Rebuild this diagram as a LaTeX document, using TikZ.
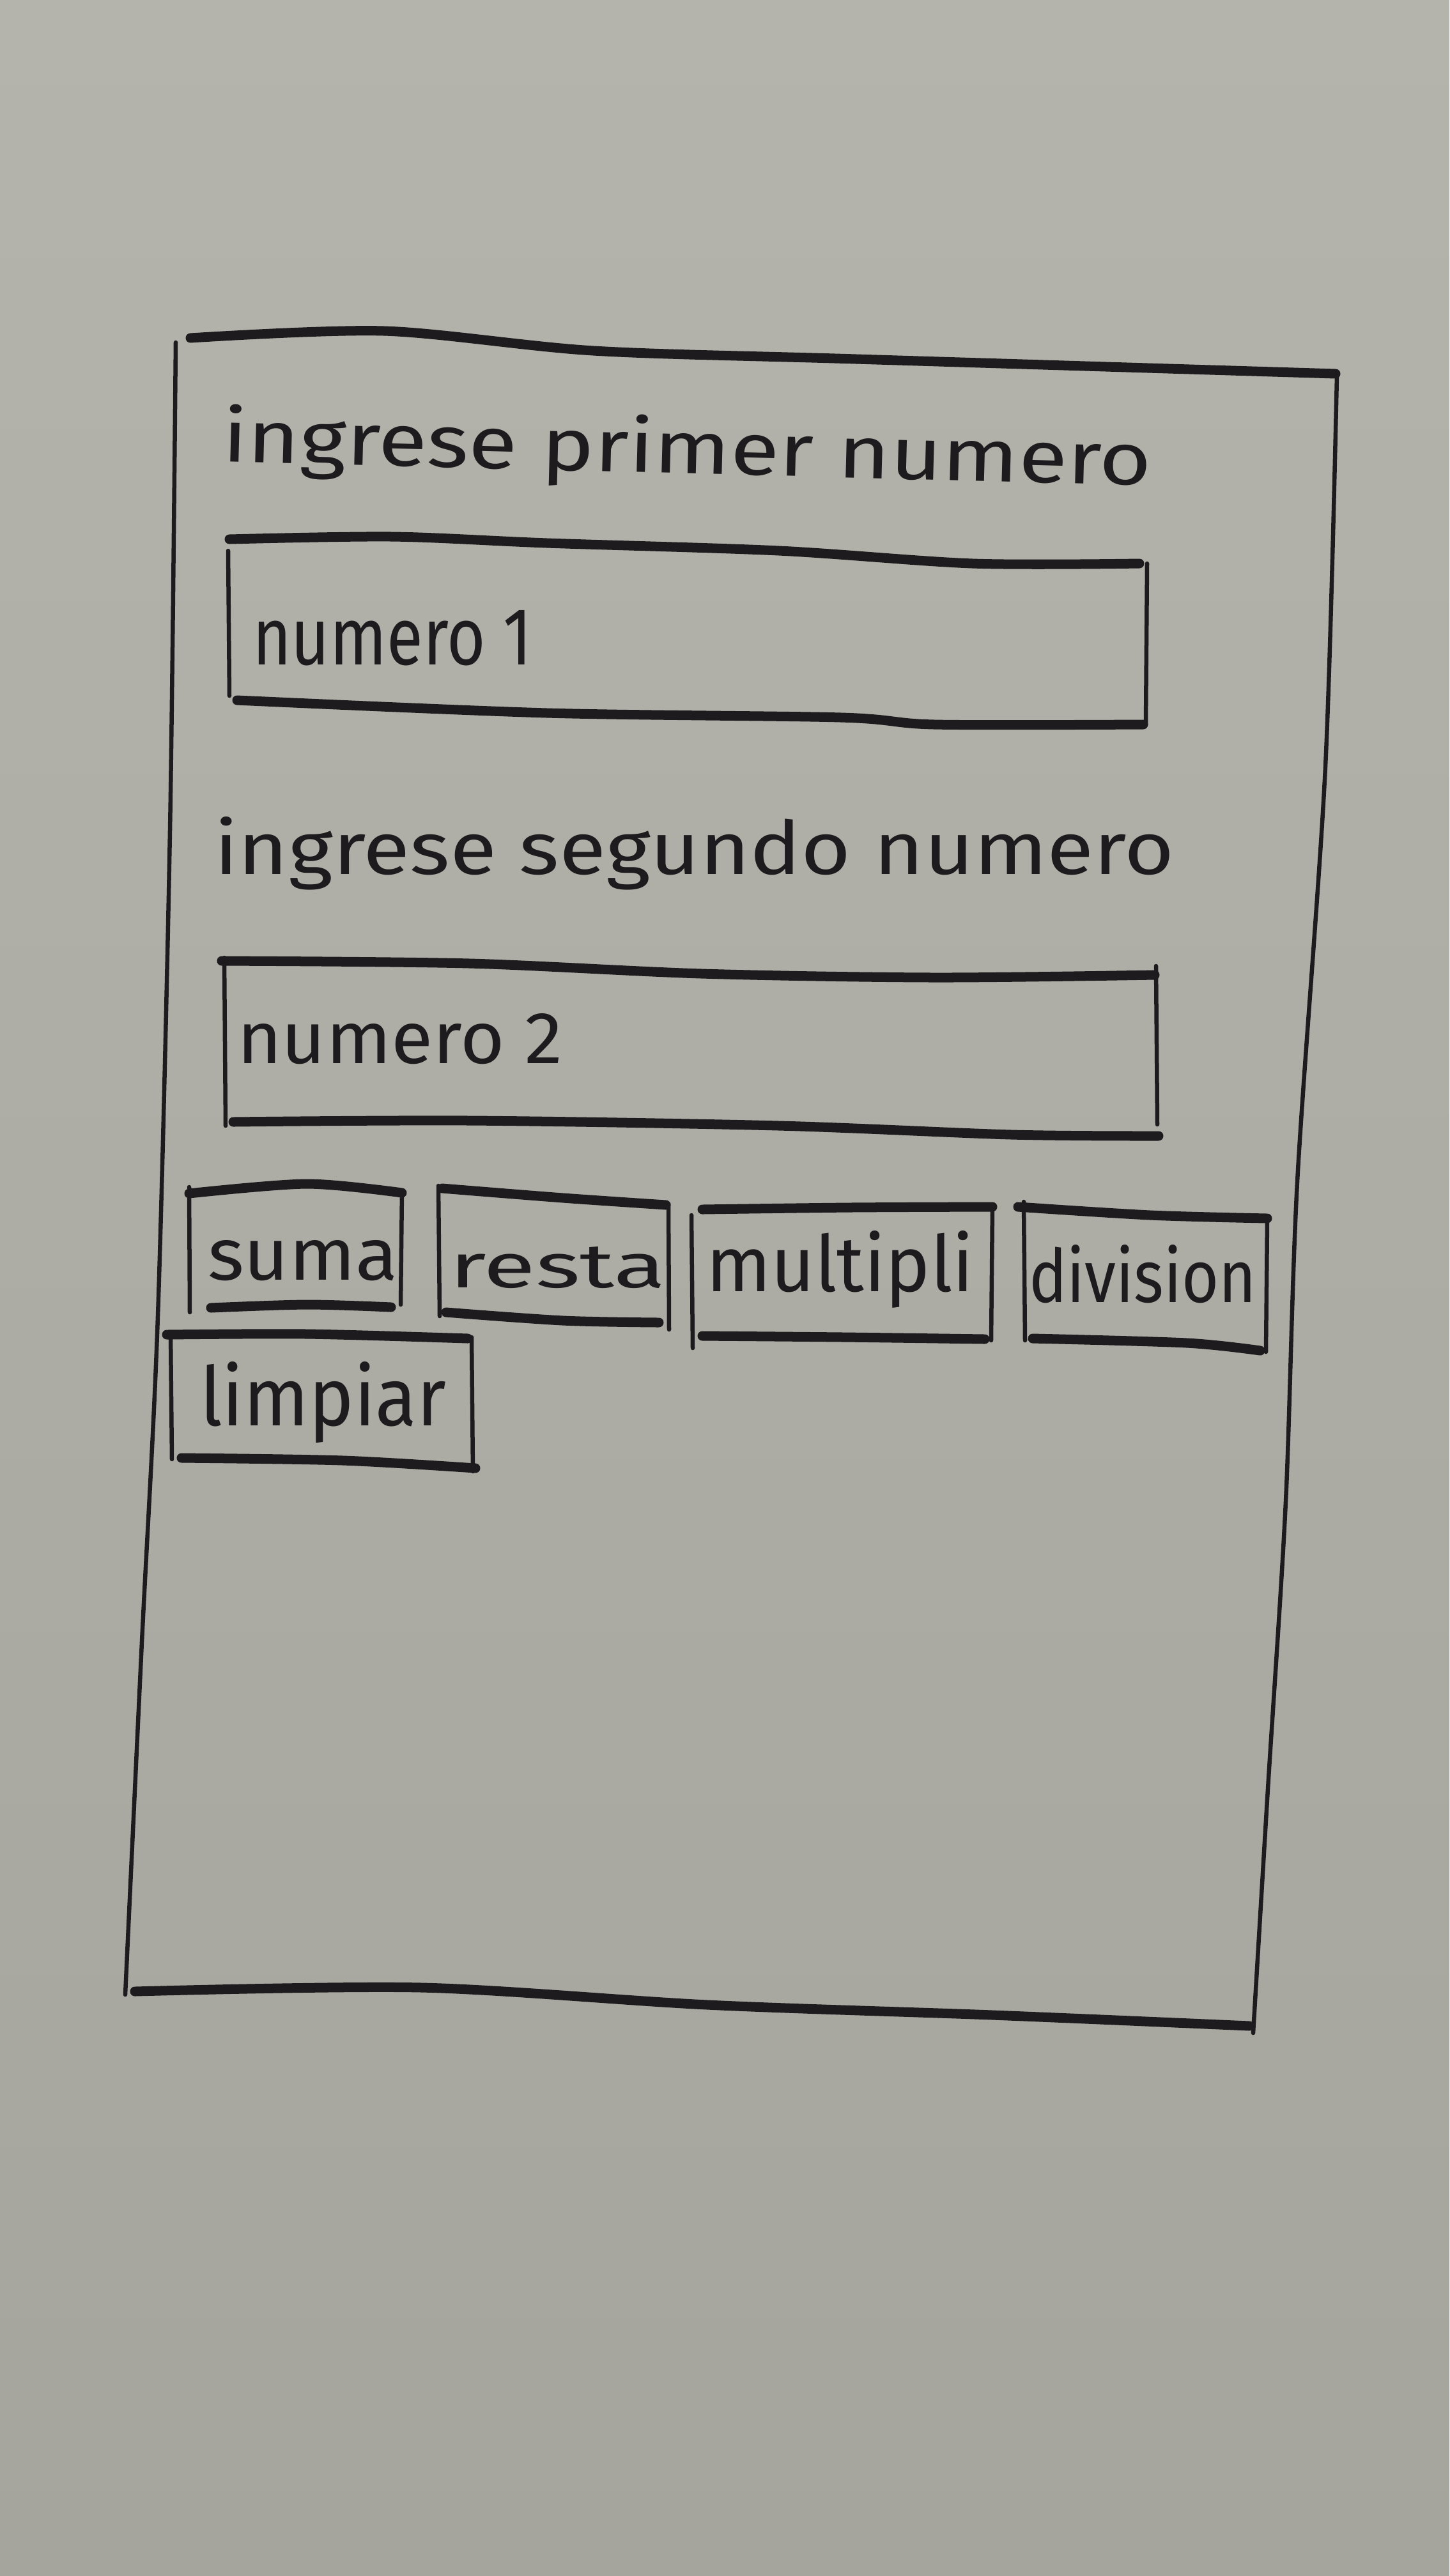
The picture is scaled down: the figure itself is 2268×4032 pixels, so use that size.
\documentclass[tikz,border=0pt]{standalone}
\usepackage{fontspec}
\usepackage{graphicx}
\setmainfont{Fira Sans}
\definecolor{ink}{HTML}{1D1B1E}
\definecolor{papertop}{HTML}{B4B4AC}
\definecolor{papermid}{HTML}{ADADA6}
\definecolor{paperbot}{HTML}{A5A59E}
% stretch a word to a given width and height above its baseline
\newcommand\inkword[3]{\resizebox{#1}{#2}{#3}}
\tikzset{
  hstroke/.style={draw=ink, line width=0.15cm, line cap=round, line join=round},
  vstroke/.style={draw=ink, line width=0.065cm, line cap=round, line join=round},
  handtext/.style={anchor=base west, inner sep=0pt, outer sep=0pt, text=ink}
}
\begin{document}
\begin{tikzpicture}[x=0.01cm, y=-0.01cm]
  \useasboundingbox (0,0) rectangle (2268,4032);
  % paper
  \shade[top color=papertop, middle color=papermid, bottom color=paperbot]
    (0,0) rectangle (2268,4032);

  % ---- phone frame ----
  \draw[hstroke] plot[smooth] coordinates {(298,529) (601,518) (929,549) (1340,562) (2090,585)};
  \draw[vstroke] plot[smooth] coordinates {(275,536) (266,1300) (247,2060) (222,2570) (196,3122)};
  \draw[vstroke] plot[smooth] coordinates {(2092,588) (2074,1200) (2030,1850) (2012,2350) (1984,2800) (1961,3182)};
  \draw[hstroke] plot[smooth] coordinates {(211,3117) (660,3111) (1107,3138) (1553,3154) (1955,3171)};

  % ---- first prompt and field ----
  \node[handtext, rotate=-1.5] (prompt1) at (347,722)
    {\inkword{14.54cm}{0.9cm}{ingrese primer numero}};
  \draw[hstroke] plot[smooth] coordinates {(359,844) (613,840) (856,850) (1219,862) (1522,882) (1783,882)};
  \draw[vstroke] (357,862) -- (359,1089);
  \draw[vstroke] (1795,882) -- (1793,1134);
  \draw[hstroke] plot[smooth] coordinates {(371,1096) (856,1116) (1316,1123) (1462,1134) (1789,1134)};
  \node[handtext] (field1) at (395,1040) {\inkword{4.37cm}{0.85cm}{numero 1}};

  % ---- second prompt and field ----
  \node[handtext] (prompt2) at (335,1368)
    {\inkword{15.02cm}{0.9cm}{ingrese segundo numero}};
  \draw[hstroke] plot[smooth] coordinates {(347,1504) (735,1508) (1098,1524) (1462,1530) (1807,1526)};
  \draw[vstroke] (351,1499) -- (353,1762);
  \draw[vstroke] (1809,1512) -- (1811,1760);
  \draw[hstroke] plot[smooth] coordinates {(365,1756) (735,1754) (1219,1762) (1583,1776) (1813,1778)};
  \node[handtext] (field2) at (371,1664) {\inkword{5.09cm}{0.78cm}{numero 2}};

  % ---- buttons ----
  % suma
  \draw[hstroke] plot[smooth] coordinates {(296,1868) (480,1853) (629,1867)};
  \draw[vstroke] (296,1858) -- (297,2054);
  \draw[vstroke] (629,1865) -- (627,2042);
  \draw[hstroke] plot[smooth] coordinates {(330,2047) (480,2042) (612,2046)};
  \node[handtext] (suma) at (325,2003) {\inkword{2.98cm}{0.62cm}{suma}};
  % resta
  \draw[hstroke] plot[smooth] coordinates {(692,1860) (881,1875) (1042,1886)};
  \draw[vstroke] (686,1856) -- (688,2060);
  \draw[vstroke] (1046,1884) -- (1047,2081);
  \draw[hstroke] plot[smooth] coordinates {(698,2054) (881,2067) (1031,2070)};
  \node[handtext] (resta) at (703,2015) {\inkword{3.39cm}{0.64cm}{resta}};
  % multipli
  \draw[hstroke] plot[smooth] coordinates {(1099,1893) (1330,1890) (1553,1889)};
  \draw[vstroke] (1082,1902) -- (1084,2110);
  \draw[vstroke] (1553,1891) -- (1551,2098);
  \draw[hstroke] plot[smooth] coordinates {(1099,2091) (1320,2093) (1541,2096)};
  \node[handtext] (multipli) at (1105,2021) {\inkword{4.19cm}{0.95cm}{multipli}};
  % division
  \draw[hstroke] plot[smooth] coordinates {(1593,1889) (1800,1902) (1983,1907)};
  \draw[vstroke] (1602,1881) -- (1604,2098);
  \draw[vstroke] (1983,1909) -- (1981,2116);
  \draw[hstroke] plot[smooth] coordinates {(1616,2095) (1857,2102) (1972,2114)};
  \node[handtext] (division) at (1610,2038) {\inkword{3.56cm}{0.9cm}{division}};
  % limpiar
  \draw[hstroke] plot[smooth] coordinates {(261,2089) (480,2088) (732,2095)};
  \draw[vstroke] (267,2088) -- (269,2284);
  \draw[vstroke] (738,2093) -- (740,2303);
  \draw[hstroke] plot[smooth] coordinates {(284,2282) (537,2286) (744,2298)};
  \node[handtext] (limpiar) at (313,2231) {\inkword{3.85cm}{1.0cm}{limpiar}};
\end{tikzpicture}
\end{document}
